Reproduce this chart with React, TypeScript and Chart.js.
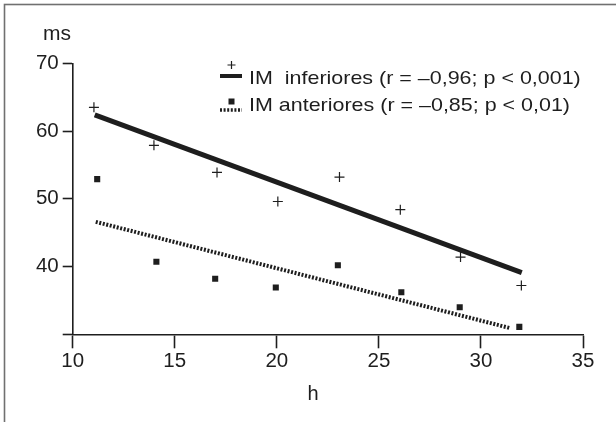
import React, { useEffect, useRef } from "react";
import { Chart, registerables } from "chart.js";

Chart.register(...registerables);

// Data
const inferioresX = [11.04, 13.98, 17.07, 20.05, 23.07, 26.05, 29.0, 31.98];
const inferioresY = [63.5, 57.9, 53.9, 49.6, 53.2, 48.4, 41.4, 37.2];
const anterioresX = [11.2, 14.1, 16.98, 19.95, 22.99, 26.1, 28.96, 31.88];
const anterioresY = [52.9, 40.7, 38.2, 36.9, 40.2, 36.2, 34.0, 31.1];
const regInfX = [11.08, 32.0];
const regInfY = [62.4, 39.1];
const regAntX = [11.13, 31.45];
const regAntY = [46.6, 30.9];
const yTicks = [30, 40, 50, 60, 70];
const xTicks = [10, 15, 20, 25, 30, 35];
const legendLabels = [
  "IM  inferiores (r = \u20130,96; p < 0,001)",
  "IM anteriores (r = \u20130,85; p < 0,01)",
];
const yTitle = "ms";
const xTitle = "h";

const toPts = (xs: number[], ys: number[]) => xs.map((x, i) => ({ x, y: ys[i] }));

const FONT = '"Liberation Sans", Arial, sans-serif';
const INK = "#1e1e1e";

const decor = {
  id: "decor",
  afterDraw(chart: any) {
    const ctx = chart.ctx as CanvasRenderingContext2D;
    ctx.save();
    // frame
    ctx.strokeStyle = "#707070";
    ctx.lineWidth = 1.6;
    ctx.strokeRect(4.5, 4.5, 800, 800);
    // axis titles
    ctx.fillStyle = INK;
    ctx.textAlign = "center";
    ctx.textBaseline = "alphabetic";
    ctx.font = `21px ${FONT}`;
    ctx.fillText(yTitle, 57, 40);
    ctx.font = `20px ${FONT}`;
    ctx.fillText(xTitle, 313, 400);
    // legend
    ctx.font = `19px ${FONT}`;
    ctx.textAlign = "left";
    const rows = [84.3, 110.7];
    legendLabels.forEach((t, i) => {
      ctx.save();
      ctx.translate(249, rows[i]);
      ctx.scale(1.13, 1);
      ctx.fillText(t, 0, 0);
      ctx.restore();
    });
    // symbols row 1
    ctx.strokeStyle = INK;
    ctx.lineWidth = 4;
    ctx.beginPath();
    ctx.moveTo(220, 76);
    ctx.lineTo(242, 76);
    ctx.stroke();
    ctx.lineWidth = 1.2;
    ctx.beginPath();
    ctx.moveTo(227.5, 65);
    ctx.lineTo(235.5, 65);
    ctx.moveTo(231.5, 61);
    ctx.lineTo(231.5, 69);
    ctx.stroke();
    // symbols row 2
    ctx.lineWidth = 3.5;
    ctx.setLineDash([2, 1.6]);
    ctx.beginPath();
    ctx.moveTo(220, 110);
    ctx.lineTo(242, 110);
    ctx.stroke();
    ctx.setLineDash([]);
    ctx.fillStyle = INK;
    ctx.fillRect(228.5, 98.5, 6, 6);
    ctx.restore();
  },
};

export default function App() {
  const ref = useRef<HTMLCanvasElement | null>(null);
  useEffect(() => {
    if (!ref.current) return;
    const chart = new Chart(ref.current, {
      type: "scatter",
      data: {
        datasets: [
          {
            type: "line",
            data: toPts(regInfX, regInfY),
            borderColor: INK,
            borderWidth: 5,
            pointRadius: 0,
            showLine: true,
            order: 3,
          } as any,
          {
            type: "line",
            data: toPts(regAntX, regAntY),
            borderColor: INK,
            borderWidth: 4,
            borderDash: [2, 1.6],
            pointRadius: 0,
            showLine: true,
            order: 3,
          } as any,
          {
            data: toPts(inferioresX, inferioresY),
            pointStyle: "cross",
            pointRadius: 5,
            borderColor: INK,
            borderWidth: 1.2,
            backgroundColor: INK,
            order: 1,
          },
          {
            data: toPts(anterioresX, anterioresY),
            pointStyle: "rect",
            pointRadius: 4.3,
            borderWidth: 0,
            backgroundColor: INK,
            borderColor: INK,
            order: 1,
          },
        ],
      },
      options: {
        responsive: false,
        animation: false,
        events: [],
        layout: { padding: { left: 0, right: 33, top: 63.3, bottom: 0 } },
        plugins: { legend: { display: false }, tooltip: { enabled: false } },
        scales: {
          x: {
            type: "linear",
            min: 10,
            max: 35,
            afterFit: (s: any) => {
              s.height = 87.7;
            },
            afterBuildTicks: (s: any) => {
              s.ticks = xTicks.map((v) => ({ value: v }));
            },
            border: { display: true, color: INK, width: 1.6 },
            grid: {
              display: true,
              drawOnChartArea: false,
              drawTicks: true,
              tickLength: 14,
              tickColor: INK,
              tickWidth: 1.6,
            },
            ticks: {
              color: INK,
              padding: 1,
              font: { family: FONT, size: 20.5 },
            },
          },
          y: {
            type: "linear",
            min: 30,
            max: 70,
            afterFit: (s: any) => {
              s.width = 72.7;
            },
            afterBuildTicks: (s: any) => {
              s.ticks = yTicks.map((v) => ({ value: v }));
            },
            border: { display: true, color: INK, width: 1.6 },
            grid: {
              display: true,
              drawOnChartArea: false,
              drawTicks: true,
              tickLength: 10,
              tickColor: INK,
              tickWidth: 1.6,
            },
            ticks: {
              color: INK,
              padding: 4,
              font: { family: FONT, size: 20.5 },
              callback: (v: any) => (v === 30 ? "" : String(v)),
            },
          },
        },
      },
      plugins: [decor],
    });
    return () => chart.destroy();
  }, []);
  return (
    <div style={{ position: "fixed", left: 0, top: 0, width: 616, height: 422, background: "#fff" }}>
      <canvas ref={ref} width={616} height={422} style={{ width: 616, height: 422, display: "block" }} />
    </div>
  );
}
